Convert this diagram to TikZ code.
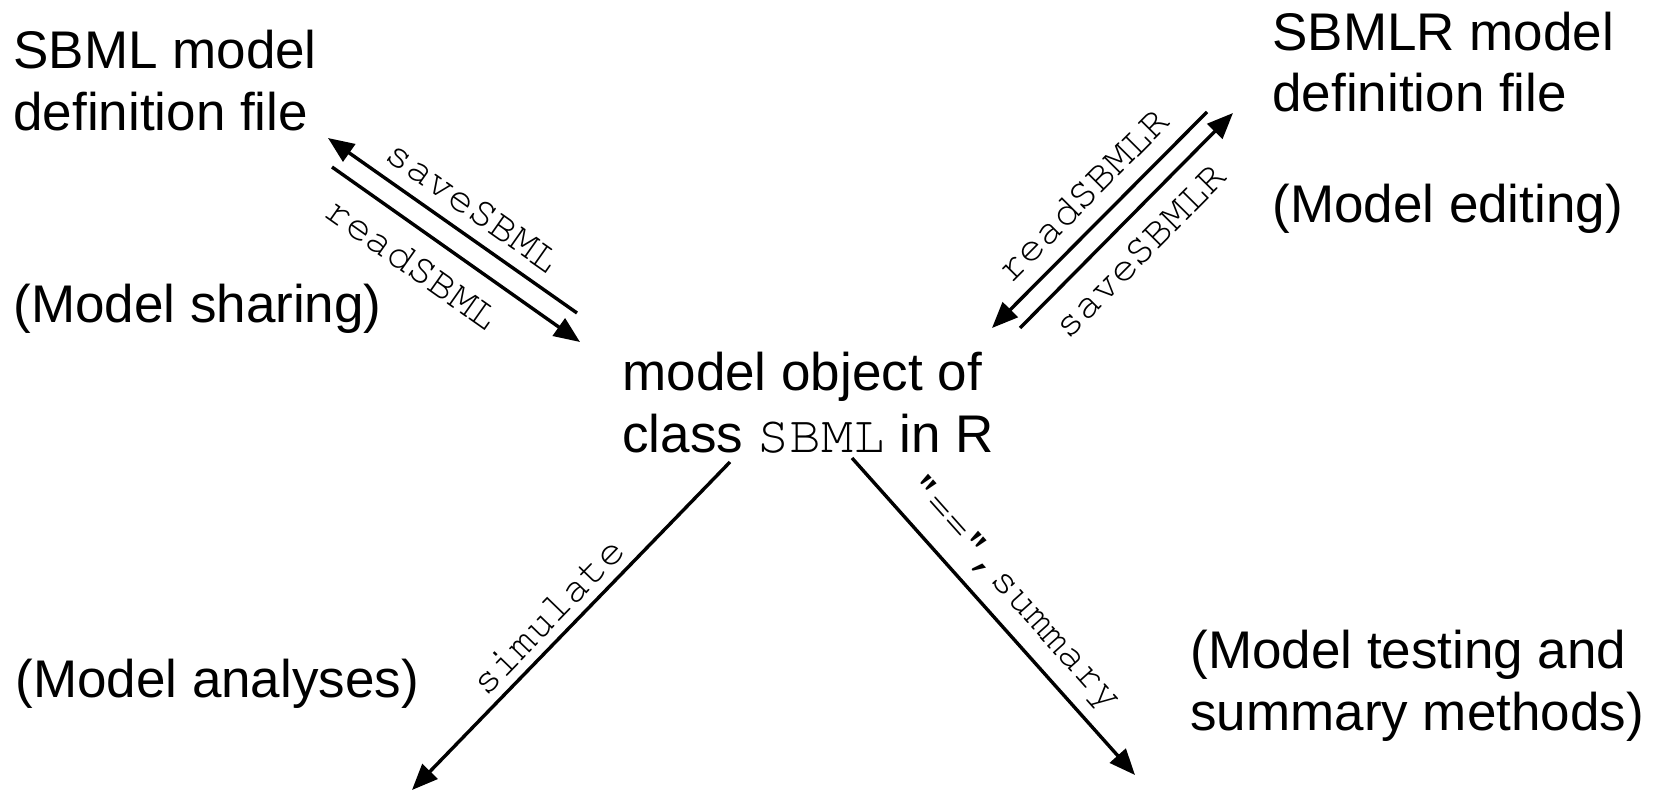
\documentclass[tikz,border=0pt]{standalone}
\usepackage[T1]{fontenc}
\usepackage{fontspec}
\setmainfont{Liberation Sans}
\usetikzlibrary{arrows.meta}
\newcommand\cour{\usefont{T1}{pcr}{m}{n}}

\begin{document}
\begin{tikzpicture}[x=0.5pt,y=-0.5pt,
    txt/.style={anchor=base west,inner sep=0,align=left,font=\fontsize{26.5}{31}\selectfont},
    conn/.style={line width=1.7pt,-{Triangle[length=13pt,width=10.5pt]}},
    fn/.style={sloped,font=\fontsize{21}{24}\selectfont\cour}]
  \useasboundingbox (0,0) rectangle (1667,803);
  % texts (anchored on the last line)
  \node[txt] (sbml) at (13,130) {SBML model\\definition file};
  \node[txt] (sharing) at (13,322) {(Model sharing)};
  \node[txt] (sbmlr) at (1272,112) {SBMLR model\\definition file};
  \node[txt] (editing) at (1272,222) {(Model editing)};
  \node[txt] (obj) at (622,452) {model object of\\class {\cour SBML} in R};
  \node[txt] (analyses) at (15,697) {(Model analyses)};
  \node[txt] (testing) at (1190,730) {(Model testing and\\summary methods)};
  % arrow ends
  \coordinate (savesbml0) at (577,313);  \coordinate (savesbml1) at (328,138);
  \coordinate (readsbml0) at (332,167);  \coordinate (readsbml1) at (580,342);
  \coordinate (readsbmlr0) at (1207,112); \coordinate (readsbmlr1) at (992,328);
  \coordinate (savesbmlr0) at (1020,328); \coordinate (savesbmlr1) at (1233,113);
  \coordinate (simulate0) at (730,462);  \coordinate (simulate1) at (412,790);
  \coordinate (summary0) at (852,458);   \coordinate (summary1) at (1135,775);
  \foreach \a/\p/\s/\d/\t in {savesbml/.48/above/3pt/saveSBML, readsbml/.4/below/5pt/readSBML,
      readsbmlr/.48/above/4pt/readSBMLR, savesbmlr/.46/below/5pt/saveSBMLR,
      simulate/.52/above/1pt/simulate, summary/.49/above/3pt/{"==",summary}}
    \draw[conn] (\a0) -- (\a1) node[fn,pos=\p,\s=\d]{\t};
\end{tikzpicture}
\end{document}
